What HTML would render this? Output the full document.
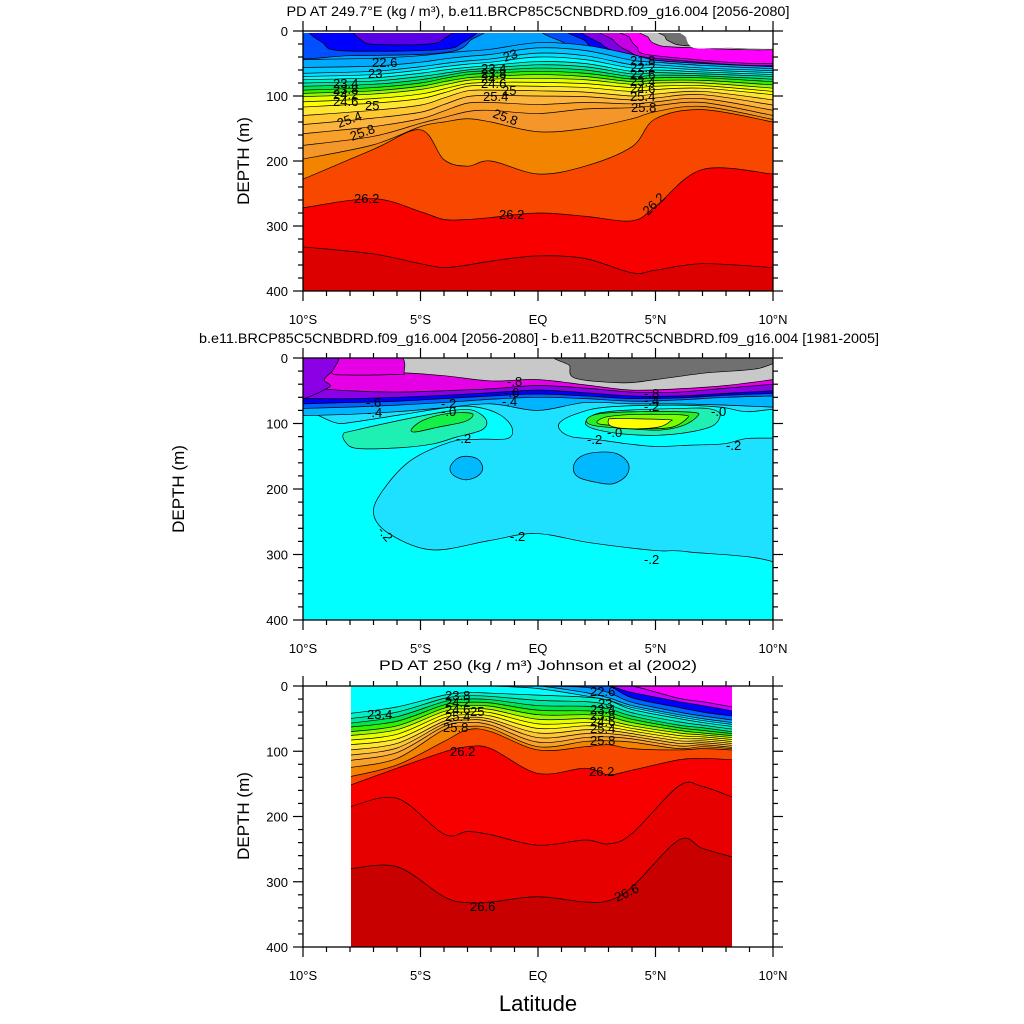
<!DOCTYPE html>
<html><head><meta charset="utf-8"><style>
html,body{margin:0;padding:0;background:#fff;}
svg{display:block;font-family:"Liberation Sans",sans-serif;}
.cl{font-size:13px;fill:#000;}
.tk{font-size:13px;fill:#000;}
</style></head><body>
<svg id="chart" width="1024" height="1024" viewBox="0 0 1024 1024" xmlns="http://www.w3.org/2000/svg">
<defs>
<clipPath id="clip1"><rect x="303" y="33" width="470" height="258"/></clipPath>
<clipPath id="clip2"><rect x="303" y="358" width="470" height="262"/></clipPath>
<clipPath id="clip3"><rect x="351" y="686" width="381" height="261"/></clipPath>
</defs>
<text x="538" y="16" text-anchor="middle" font-size="14" textLength="503" lengthAdjust="spacingAndGlyphs">PD AT 249.7°E (kg / m³), b.e11.BRCP85C5CNBDRD.f09_g16.004 [2056-2080]</text>
<text x="539" y="343" text-anchor="middle" font-size="14" textLength="680" lengthAdjust="spacingAndGlyphs">b.e11.BRCP85C5CNBDRD.f09_g16.004 [2056-2080] - b.e11.B20TRC5CNBDRD.f09_g16.004 [1981-2005]</text>
<text x="538" y="670" text-anchor="middle" font-size="14" textLength="318" lengthAdjust="spacingAndGlyphs">PD AT 250 (kg / m³) Johnson et al (2002)</text>
<text transform="translate(249,161) rotate(-90)" text-anchor="middle" font-size="17">DEPTH (m)</text>
<text transform="translate(184,489) rotate(-90)" text-anchor="middle" font-size="17">DEPTH (m)</text>
<text transform="translate(249,816) rotate(-90)" text-anchor="middle" font-size="17">DEPTH (m)</text>
<text x="538" y="1011" text-anchor="middle" font-size="22">Latitude</text>
<g id="p1" clip-path="url(#clip1)"></g>
<g id="p2" clip-path="url(#clip2)"></g>
<g id="p3" clip-path="url(#clip3)"></g>
<g id="axes"></g>
<g id="labels1" class="cl">
<text x="372" y="67">22.6</text><text x="368" y="78">23</text>
<text x="333" y="88">23.4</text><text x="333" y="94">23.8</text><text x="333" y="99">24.2</text><text x="333" y="106">24.6</text>
<text x="365" y="110">25</text>
<text transform="translate(339,128) rotate(-20)">25.4</text>
<text transform="translate(352,141) rotate(-20)">25.8</text>
<text transform="translate(505,62) rotate(-20)">23</text>
<text x="481" y="73">23.4</text><text x="481" y="78">23.8</text><text x="481" y="83">24.2</text><text x="481" y="88">24.6</text>
<text x="502" y="95">25</text><text x="483" y="101">25.4</text>
<text transform="translate(492,117) rotate(20)">25.8</text>
<text x="630" y="65">21.8</text><text x="630" y="72">22.2</text><text x="630" y="79">22.6</text><text x="630" y="86">23.4</text><text x="630" y="93">24.6</text><text x="630" y="101">25.4</text><text x="631" y="112">25.8</text>
<text x="354" y="203">26.2</text><text x="499" y="219">26.2</text>
<text transform="translate(648,216) rotate(-45)">26.2</text>
</g>
<g id="labels2" class="cl">
<text x="507" y="386">-.8</text><text x="504" y="397">-.6</text><text x="502" y="406">-.4</text>
<text x="366" y="407">-.6</text><text x="367" y="417">-.4</text>
<text x="441" y="408">-.2</text><text x="441" y="416">-.0</text>
<text x="456" y="443">-.2</text><text x="587" y="444">-.2</text><text x="607" y="437">-.0</text>
<text x="711" y="416">-.0</text><text x="726" y="450">-.2</text>
<text x="644" y="398">-.8</text><text x="644" y="405">-.4</text><text x="644" y="411">-.2</text>
<text transform="translate(377,531) rotate(50)">-.2</text>
<text x="510" y="541">-.2</text><text x="644" y="564">-.2</text>
</g>
<g id="labels3" class="cl">
<text x="367" y="719">23.4</text>
<text x="445" y="700">23.8</text><text x="445" y="707">24.2</text><text x="445" y="714">24.6</text><text x="445" y="721">25.4</text><text x="443" y="732">25.8</text>
<text x="470" y="716">25</text>
<text x="590" y="696">22.6</text><text x="598" y="708">23</text>
<text x="590" y="714">23.4</text><text x="590" y="720">23.8</text><text x="590" y="726">24.6</text><text x="590" y="733">25.4</text><text x="590" y="745">25.8</text>
<text x="450" y="756">26.2</text><text x="589" y="776">26.2</text>
<text x="470" y="911">26.6</text>
<text transform="translate(617,902) rotate(-25)">26.6</text>
</g>
</svg>
<script>
// ---------- Panel 1 data ----------
const p1Lats = [-10,-7,-5,-4,-3,-2,0,2,4,5,7,10];
const p1Levels = [22.6,23.0,23.2,23.4,23.6,23.8,24.0,24.2,24.4,24.6,24.8,25.0,25.2,25.4,25.6,25.8,25.9,26.0,26.2,26.4];
const p1Profiles = [
 [44,56,65,70,75,80,85,91,96,101,109,117,130,144,158,176,197,228,272,332],
 [42,54,62,67,72,77,82,87,92,97,104,111,122,134,147,162,175,182,258,343],
 [38,48,55,60,65,70,75,80,85,90,97,104,114,125,135,142,147,152,278,358],
 [34,43,50,55,60,65,69,73,78,83,89,95,103,113,123,133,140,198,290,364],
 [31,39,46,51,56,60,63,67,72,76,81,85,92,101,111,124,135,208,290,360],
 [28,36,43,48,53,57,61,65,70,74,79,84,91,99,110,122,140,200,287,354],
 [18,26,34,40,47,52,57,62,67,73,79,85,92,100,113,127,155,220,280,346],
 [22,30,38,44,50,55,60,65,70,75,81,87,94,101,110,120,150,208,285,350],
 [36,45,52,57,62,66,70,74,78,82,87,93,100,106,112,118,135,178,292,372],
 [45,48,52,56,60,64,68,72,76,80,85,90,97,103,109,115,124,135,270,368],
 [50,53,57,60,63,66,69,72,76,80,84,88,93,98,104,110,116,121,213,358],
 [55,58,61,64,67,70,74,78,83,88,93,98,106,114,122,130,136,140,220,364]
];
const p1Colors = ['#00aaff','#00c8ff','#00e1ff','#00ffff','#00f0c8','#00e6a0','#00e650','#32f000','#96f500','#e6ff00','#ffff00','#ffe632','#ffc832','#fcb43c','#f8a028','#f5962a','#f28400','#f84800','#f80000','#dc0000'];
const p1SurfacePatches = [
 [[-10.5,-5],[-2.8,-5],[-2.9,15],[-3.5,30],[-5,36],[-8,38],[-10.5,40]],
 [[-9.3,-5],[-3.0,-5],[-3.3,20],[-4,28],[-6,31],[-8.5,30],[-9.1,20]],
 [[-7.6,-5],[-3.8,-5],[-4.0,12],[-4.6,20],[-6.5,21],[-7.4,17]],
 [[0.8,-5],[10.5,-5],[10.5,60],[6,56],[4,46],[2,38],[1.2,20]],
 [[1.8,-5],[10.5,-5],[10.5,57],[6,52],[4,42],[2.6,30],[2,15]],
 [[2.4,-5],[10.5,-5],[10.5,53],[5,46],[3.6,36],[2.7,20]],
 [[3.1,-5],[10.5,-5],[10.5,51],[5,42],[3.8,30],[3.2,14]],
 [[3.8,-5],[10.5,-5],[10.5,48],[5,38],[4.2,24],[3.9,10]],
 [[4.6,-5],[10.5,-5],[10.5,27],[6,25],[5,20],[4.7,10]],
 [[5.3,-5],[10.5,-5],[10.5,25],[6.5,23],[5.6,16],[5.4,8]],
 [[6.25,-5],[10.5,-5],[10.5,25],[8,26],[6.8,27],[6.45,22],[6.3,10]]
];
const p1PatchColors = ['#0050ff','#0000ff','#5a00e6','#0050ff','#0000ff','#8000e6','#c800e6','#ff00ff','#c0c0c0','#707070','#ffffff'];

// ---------- Panel 2 data ----------
const p2Lats = [-10,-8,-6,-4,-2,0,2,4,6,8,10];
const p2Q1 = [88,86,82,76,70,80,68,70,70,72,75];
const p2Q2 = [77,75,72,68,63,60,62,66,64,60,58];
const p2Q3 = [70,68,66,62,58,55,58,62,61,57,54];
const p2Q4 = [62,62,60,57,53,49,53,58,58,54,50];
const p2Q5 = [45,50,52,50,47,42,46,52,52,46,40];
const p2G  = [20,20,22,27,35,33,41,49,47,42,33];
const p2CyanRegion = [[-10.5,107],[-8.3,100],[-5.9,87],[-3.7,75],[-2.6,75],[-1.6,87],[-1.1,107],[-1.3,123],[-2.5,124],[-3.7,128],[-5.4,156],[-6.6,202],[-7,238],[-6.3,269],[-4.5,293],[-2.1,279],[-0.1,268],[2.2,282],[5,294],[6.4,296],[10.5,320],[10.5,420],[-10.5,420]];
const p2CyanRing = [[0.94,98],[1.65,85],[2.92,75],[5.76,72],[7.74,75],[8.88,82],[10.5,80],[10.5,118],[8.88,123],[7.9,131],[6.5,133],[5,135],[3.8,131],[2.8,126],[2.1,123],[1.4,120],[0.94,110]];
const p2AquaLeft = [[-8.28,116],[-7.86,111],[-5.45,92],[-3.6,80],[-2.75,80],[-2.2,95],[-2.4,110],[-3.5,121],[-4.45,131],[-5.87,137],[-7.7,138],[-8.2,128]];
const p2GreenLeft = [[-5.37,108],[-4.88,95],[-3.9,85],[-2.9,84],[-2.8,90],[-3.2,98],[-4.17,105],[-5.23,113]];
const p2AquaRight = [[2.07,95],[2.5,85],[3.63,80],[6.04,77],[7.18,77],[7.74,85],[7.46,103],[6.47,113],[5.05,118],[3.63,116],[2.57,110],[2.07,103]];
const p2GreenRight = [[2.07,94],[2.64,85],[4.34,82],[6.6,83],[6.75,90],[6.18,103],[5.23,110],[3.8,108],[2.36,103]];
const p2LimeRight = [[2.57,95],[3.06,89],[4.34,86],[6.18,87],[6.33,92.5],[5.76,105],[4.89,108],[3.8,105],[2.64,101]];
const p2YellowRight = [[3.0,95],[3.28,92.5],[5.48,94],[5.62,96.7],[5.19,105],[4.34,108],[3.49,107],[3.06,103]];
const p2BlueLeft = [[-3.74,167],[-3.46,154],[-3.03,150],[-2.54,155],[-2.35,169],[-2.6,181],[-3.1,186],[-3.6,179]];
const p2BlueRight = [[1.5,167],[1.79,151],[2.5,144],[3.35,146],[3.84,161],[3.77,179],[3.2,192],[2.5,190],[1.72,182]];
const p2MagentaPatch = [[-8.6,-5],[-6,-5],[-5.7,22],[-6,25],[-8,26],[-8.8,22]];
const p2PurplePatch = [[-10.5,-5],[-8.6,-5],[-8.7,17],[-9.1,33],[-8.9,45],[-10.5,62]];
const p2DarkGrayPatch = [[1.26,-5],[9.6,-5],[9.5,15],[7.1,23],[5,33],[3.6,38],[1.6,31],[1.35,12]];

// ---------- Panel 3 data ----------
const p3Lats = [-8,-6,-4,-3,-2,0,2,3,4,6,7,8.25];
const p3Levels = [21.8,22.2,22.6,23.0,23.2,23.4,23.6,23.8,24.0,24.2,24.4,24.6,24.8,25.0,25.2,25.4,25.6,25.8,26.0,26.2,26.4,26.6];
const p3Profiles = [
 [0,0,0,0,0,0,42,50,57,63,70,76,83,90,98,106,114,125,139,152,185,280],
 [0,0,0,0,0,0,32,40,47,54,61,67,74,81,88,95,102,111,121,126,172,277],
 [0,0,0,0,0,0,14,19,24,29,34,39,44,49,54,58,62,67,85,101,227,323],
 [0,0,0,0,0,0,10,15,20,25,30,35,40,44,48,52,56,62,67,93,223,332],
 [0,0,0,0,0,0,11,16,21,26,31,36,41,46,51,55,60,65,70,96,228,331],
 [0,0,0,0,0,4,14,22,30,37,44,51,58,65,72,79,86,93,98,134,244,323],
 [0,0,0,2,10,15,17,24,31,38,44,50,56,61,67,73,79,85,93,126,236,331],
 [0,0,0,10,18,22,22,29,35,41,47,53,58,63,68,73,78,84,90,136,242,329],
 [0,10,18,25,30,33,36,41,46,51,56,61,65,69,73,77,81,86,96,129,226,308],
 [19,24,33,40,44,47,50,55,60,64,68,72,76,80,84,88,92,96,98,113,153,236],
 [24,30,40,46,50,53,56,60,64,68,72,75,78,81,84,87,90,93,96,111,154,249],
 [32,38,46,52,56,59,62,66,70,73,76,79,82,85,88,91,94,96,98,113,170,262]
];
const p3Colors = ['#c800ff','#0000ff','#0064ff','#00a0ff','#00d2ff','#00ffff','#00f0c8','#00e6a0','#00e650','#32f000','#96f500','#e6ff00','#ffff00','#ffe632','#ffc832','#fcb43c','#f8a028','#f28400','#f84800','#f80000','#e60000','#c80000'];

// ---------- axis ticks ----------
const depthTicks = [0,100,200,300,400];
const latTicks = [-10,-5,0,5,10];
const latTickLabels = ['10°S','5°S','EQ','5°N','10°N'];

const NS = 'http://www.w3.org/2000/svg';
const panels = [{x0:303,y0:31,h:260},{x0:303,y0:358,h:262},{x0:303,y0:686,h:261}];
function xS(p,lat){return p.x0+(lat+10)/20*470;}
function yS(p,d){return p.y0+d/400*p.h;}
function crPath(pts,closed){
  const n=pts.length;let d='M'+pts[0][0].toFixed(2)+','+pts[0][1].toFixed(2);
  const segs=closed?n:n-1;
  for(let i=0;i<segs;i++){
    const g=k=>closed?pts[(k+n)%n]:pts[Math.max(0,Math.min(n-1,k))];
    const p0=g(i-1),p1=g(i),p2=g(i+1),p3=g(i+2);
    const c1=[p1[0]+(p2[0]-p0[0])/6,p1[1]+(p2[1]-p0[1])/6];
    const c2=[p2[0]-(p3[0]-p1[0])/6,p2[1]-(p3[1]-p1[1])/6];
    d+=' C'+c1[0].toFixed(2)+','+c1[1].toFixed(2)+' '+c2[0].toFixed(2)+','+c2[1].toFixed(2)+' '+p2[0].toFixed(2)+','+p2[1].toFixed(2);
  }
  return closed?d+' Z':d;
}
function mk(g,tag,attrs){const e=document.createElementNS(NS,tag);for(const k in attrs)e.setAttribute(k,attrs[k]);g.appendChild(e);return e;}
function curvePts(p,lats,depths){return lats.map((l,i)=>[xS(p,l),yS(p,depths[i])]);}
function fillBelow(g,p,lats,depths,color,name){
  const pts=curvePts(p,lats,depths);
  const yb=p.y0+p.h+5;
  const d=crPath(pts,false)+' L'+(pts[pts.length-1][0]+20)+','+pts[pts.length-1][1]+' L'+(pts[pts.length-1][0]+20)+','+yb+' L'+(pts[0][0]-20)+','+yb+' L'+(pts[0][0]-20)+','+pts[0][1]+' Z';
  const f=mk(g,'path',{d:d,fill:color,stroke:'none'});
  
  
  const l=mk(g,'path',{d:crPath(pts,false),fill:'none',stroke:'#000','stroke-width':0.7});
  
  
}
function fillAbove(g,p,lats,depths,color,name){
  const pts=curvePts(p,lats,depths);
  const yt=p.y0-10;
  const d=crPath(pts,false)+' L'+(pts[pts.length-1][0]+20)+','+pts[pts.length-1][1]+' L'+(pts[pts.length-1][0]+20)+','+yt+' L'+(pts[0][0]-20)+','+yt+' L'+(pts[0][0]-20)+','+pts[0][1]+' Z';
  const f=mk(g,'path',{d:d,fill:color,stroke:'none'});
  
  
  const l=mk(g,'path',{d:crPath(pts,false),fill:'none',stroke:'#000','stroke-width':0.7});
  
  
}
function blob(g,p,pts,color,name,stroke){
  const px=pts.map(q=>[xS(p,q[0]),yS(p,q[1])]);
  const e=mk(g,'path',{d:crPath(px,true),fill:color,stroke:stroke?'#000':'none','stroke-width':0.7});
  
  
}
function col(profiles,k){return profiles.map(r=>r[k]);}

// Panel 1
(function(){
  const p=panels[0],g=document.getElementById('p1');
  const bg=mk(g,'rect',{x:303,y:31,width:470,height:260,fill:'#00a0ff'});
  
  
  p1SurfacePatches.forEach((pts,i)=>blob(g,p,pts,p1PatchColors[i],'panel1-surface-patch-'+i,i!==10));
  p1Levels.forEach((v,k)=>fillBelow(g,p,p1Lats,col(p1Profiles,k),p1Colors[k],'panel1-contour-'+v));
})();

// Panel 2
(function(){
  const p=panels[1],g=document.getElementById('p2');
  const bg=mk(g,'rect',{x:303,y:358,width:470,height:262,fill:'#1ee1ff'});
  
  
  blob(g,p,p2CyanRegion,'#00ffff','panel2-cyan-region',true);
  blob(g,p,p2CyanRing,'#00ffff','panel2-cyan-ring',true);
  blob(g,p,p2AquaLeft,'#1ef0b4','panel2-aqua-left',true);
  blob(g,p,p2GreenLeft,'#14f046','panel2-green-left',true);
  blob(g,p,p2AquaRight,'#1ef0b4','panel2-aqua-right',true);
  blob(g,p,p2GreenRight,'#28f028','panel2-green-right',true);
  blob(g,p,p2LimeRight,'#78ff00','panel2-lime-right',true);
  blob(g,p,p2YellowRight,'#ffff00','panel2-yellow-right',true);
  blob(g,p,p2BlueLeft,'#00b9ff','panel2-blue-left',true);
  blob(g,p,p2BlueRight,'#00b9ff','panel2-blue-right',true);
  fillAbove(g,p,p2Lats,p2Q1,'#00b4ff','panel2-q1');
  fillAbove(g,p,p2Lats,p2Q2,'#0064ff','panel2-q2');
  fillAbove(g,p,p2Lats,p2Q3,'#0000ff','panel2-q3');
  fillAbove(g,p,p2Lats,p2Q4,'#8c00e6','panel2-q4');
  fillAbove(g,p,p2Lats,p2Q5,'#e600e6','panel2-q5');
  fillAbove(g,p,p2Lats,p2G,'#c8c8c8','panel2-gray');
  blob(g,p,p2MagentaPatch,'#e600e6','panel2-magenta-patch',true);
  blob(g,p,p2PurplePatch,'#8c00e6','panel2-purple-patch',true);
  blob(g,p,p2DarkGrayPatch,'#707070','panel2-darkgray-patch',true);
})();

// Panel 3
(function(){
  const p=panels[2],g=document.getElementById('p3');
  const bg=mk(g,'rect',{x:351,y:686,width:381,height:261,fill:'#ff00ff'});
  
  
  p3Levels.forEach((v,k)=>fillBelow(g,p,p3Lats,col(p3Profiles,k),p3Colors[k],'panel3-contour-'+v));
})();

// Axes
(function(){
  const g=document.getElementById('axes');
  panels.forEach((p,pi)=>{
    const fr=mk(g,'rect',{x:p.x0,y:p.y0,width:470,height:p.h,fill:'none',stroke:'#000','stroke-width':1.3});
    
    
    for(let lat=-10;lat<=10;lat++){
      const x=xS(p,lat),len=(lat%5===0)?10:5;
      mk(g,'line',{x1:x,y1:p.y0,x2:x,y2:p.y0-len,stroke:'#000','stroke-width':1.2});
      mk(g,'line',{x1:x,y1:p.y0+p.h,x2:x,y2:p.y0+p.h+len,stroke:'#000','stroke-width':1.2});
    }
    for(let d=0;d<=400;d+=20){
      const y=yS(p,d),len=(d%100===0)?10:5;
      mk(g,'line',{x1:p.x0,y1:y,x2:p.x0-len,y2:y,stroke:'#000','stroke-width':1.2});
      mk(g,'line',{x1:p.x0+470,y1:y,x2:p.x0+470+len,y2:y,stroke:'#000','stroke-width':1.2});
    }
    depthTicks.forEach(d=>{
      const t=mk(g,'text',{x:288,y:yS(p,d)+5,'text-anchor':'end',class:'tk'});
      t.textContent=String(d);
      
      
    });
    latTicks.forEach((l,i)=>{
      const t=mk(g,'text',{x:xS(p,l),y:p.y0+p.h+33,'text-anchor':'middle',class:'tk','font-size':'14'});
      t.textContent=latTickLabels[i];
      
      
    });
  });
})();
</script>
</body></html>
